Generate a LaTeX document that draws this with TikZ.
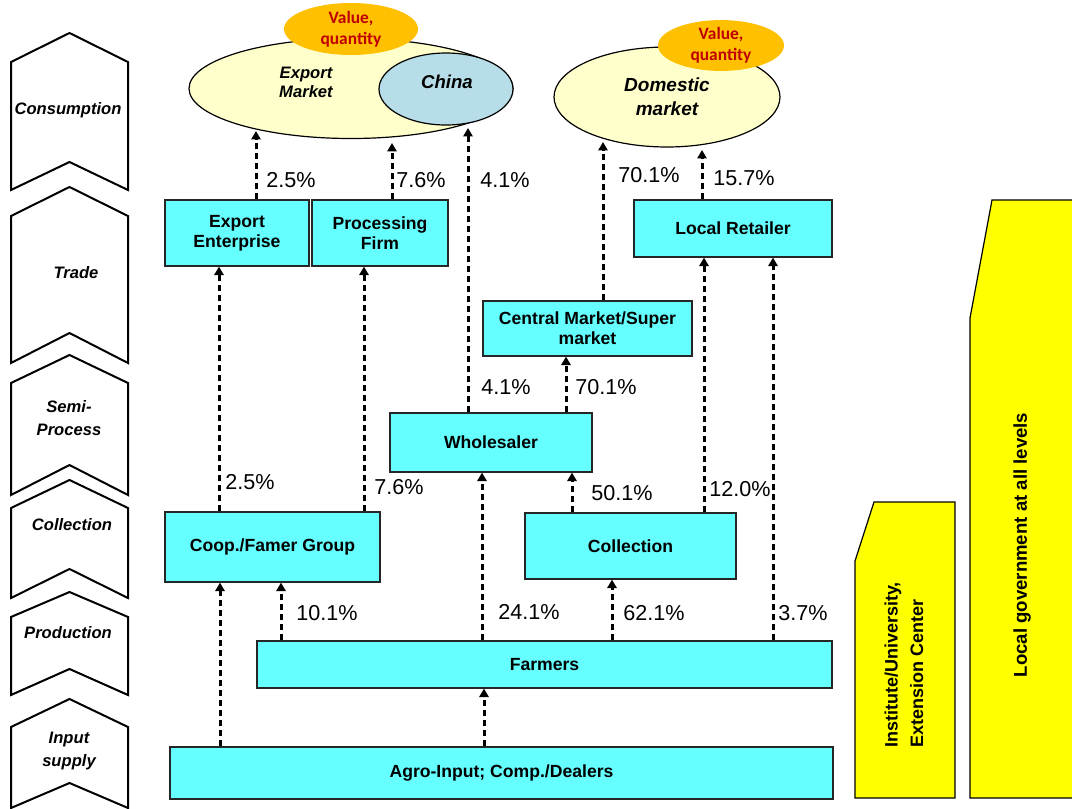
\documentclass[tikz,border=0pt]{standalone}
\usepackage{fontspec}
\setmainfont{Liberation Sans}
\newfontfamily\valuefont{Carlito}
\usetikzlibrary{shapes.geometric}
\usetikzlibrary{arrows.meta}
\definecolor{boxcyan}{HTML}{66FFFF}
\definecolor{mktyellow}{HTML}{FFFFCC}
\definecolor{chinablue}{HTML}{B7DEE8}
\definecolor{valorange}{HTML}{FFC000}
\definecolor{valred}{HTML}{C00000}
\definecolor{govyellow}{HTML}{FFFF00}

\begin{document}
\begin{tikzpicture}[x=0.5pt,y=-0.5pt,
		box/.style={draw=black!85,fill=boxcyan,line width=0.6pt,inner sep=0pt,align=center,
			font=\bfseries\fontsize{8.8}{10}\selectfont},
		mkt/.style={ellipse,draw,line width=0.6pt,inner sep=0pt},
		val/.style={ellipse,fill=valorange,inner sep=0pt,align=center,text=valred,
			font=\valuefont\bfseries\fontsize{8.7}{10.5}\selectfont},
		flow/.style={-{Triangle[length=4.2pt,width=4.6pt]},line width=1.5pt,dash pattern=on 3.2pt off 1.8pt},
		pct/.style={font=\fontsize{10.8}{12}\selectfont},
		chev/.style={draw,line width=1pt,line join=miter},
		stage/.style={align=center,font=\bfseries\itshape\fontsize{8.3}{11.5}\selectfont},
		side/.style={align=left,rotate=90,font=\bfseries\fontsize{9}{12.7}\selectfont}]
		\useasboundingbox (0,0) rectangle (1072,809);
		% value chain stages
		\draw[chev] (11,62) -- (69.5,33) -- (128,62) -- (128,190) -- (69.5,162) -- (11,190) -- cycle;
		\draw[chev] (11,216) -- (69.5,187) -- (128,216) -- (128,363) -- (69.5,333) -- (11,363) -- cycle;
		\draw[chev] (11,383) -- (69.5,355) -- (128,383) -- (128,495) -- (69.5,465) -- (11,495) -- cycle;
		\draw[chev] (11,508) -- (69.5,480) -- (128,508) -- (128,598) -- (69.5,569) -- (11,598) -- cycle;
		\draw[chev] (11,617) -- (69.5,592) -- (128,617) -- (128,695) -- (69.5,669) -- (11,695) -- cycle;
		\draw[chev] (11,727) -- (69.5,699) -- (128,727) -- (128,808) -- (69.5,783) -- (11,808) -- cycle;
		\node[stage] (stC) at (68,110){Consumption};
		\node[stage] (stT) at (76,273){Trade};
		\node[stage] (stS) at (69,418){Semi-\\Process};
		\node[stage] (stCo) at (72,525){Collection};
		\node[stage] (stP) at (68,633){Production};
		\node[stage] (stI) at (69,751){Input\\supply};
		% markets
		\node[mkt,fill=mktyellow,minimum width=162pt,minimum height=50pt] (EM) at (351,88.5){};
		\node[mkt,fill=chinablue,minimum width=67pt,minimum height=36pt] (CN) at (446,89){};
		\node[stage,font=\bfseries\itshape\fontsize{8.3}{9.5}\selectfont] (EMt) at (306,82){Export\\Market};
		\node[stage,font=\bfseries\itshape\fontsize{9.3}{11}\selectfont] (CNt) at (447,82){China};
		\node[val,minimum width=67pt,minimum height=26pt] (V1) at (351,29){Value,\\quantity};
		\node[mkt,fill=mktyellow,minimum width=113pt,minimum height=50pt,align=center,
			font=\bfseries\itshape\fontsize{9.5}{12}\selectfont] (DM) at (667,97){Domestic\\market};
		\node[val,minimum width=63pt,minimum height=25pt] (V2) at (721,45.5){Value,\\quantity};
		% actors
		\node[box,minimum width=72pt,minimum height=33pt] (EE) at (237,233){Export\\Enterprise};
		\node[box,minimum width=68pt,minimum height=33pt] (PF) at (380,233){Processing\\Firm};
		\node[box,minimum width=99pt,minimum height=28.5pt] (LR) at (733,228.5){Local Retailer};
		\node[box,minimum width=104.5pt,minimum height=27.5pt] (CM) at (587.5,328.5){Central Market/Super\\market};
		\node[box,minimum width=101pt,minimum height=29.5pt] (WS) at (491,442.5){Wholesaler};
		\node[box,minimum width=107.5pt,minimum height=35pt] (CO) at (272.5,547){Coop./Famer Group};
		\node[box,minimum width=105.5pt,minimum height=33pt] (CL) at (630.5,546){Collection};
		\node[box,minimum width=287.5pt,minimum height=23.5pt] (FA) at (544.5,664.5){Farmers};
		\node[box,minimum width=331.5pt,minimum height=26pt] (AI) at (501.5,773){Agro-Input; Comp./Dealers};
		% support
		\fill[govyellow] (874,502) -- (955,502) -- (955,798) -- (855,798) -- (855,561) -- cycle;
		\draw[line width=0.6pt] (874,502) -- (955,502) -- (955,798) -- (855,798) -- (855,561) -- cycle;
		\fill[govyellow] (992,200) -- (1072,200) -- (1072,798) -- (970,798) -- (970,318) -- cycle;
		\draw[line width=0.6pt] (1072,200) -- (992,200) -- (970,318) -- (970,798) -- (1072,798);
		\node[side] (INS) at (904,755)[anchor=west]{Institute/University,\\Extension Center};
		\node[side,font=\bfseries\fontsize{9.3}{11}\selectfont] (GOV) at (1022,545){Local government at all levels};
		% tips on the market ellipses
		\coordinate (tEE) at (256,131);
		\coordinate (tPF) at (392,143);
		\coordinate (tWS) at (468,128);
		\coordinate (tCM) at (603,142);
		\coordinate (tLR) at (702,150);
		\draw 	(AI.north -| 220,0) edge[flow] (CO.south -| 220,0)
		(AI.north -| 484,0) edge[flow] (FA.south -| 484,0)
		(FA.north -| 281,0) edge[flow] (CO.south -| 281,0)
		(FA.north -| 482,0) edge[flow] (WS.south -| 482,0)
		(FA.north -| 612,0) edge[flow] (CL.south -| 612,0)
		(FA.north -| 773,0) edge[flow] (LR.south -| 773,0)
		(CO.north -| 219,0) edge[flow] (EE.south -| 219,0)
		(CO.north -| 364,0) edge[flow] (PF.south -| 364,0)
		(CL.north -| 572,0) edge[flow] (WS.south -| 572,0)
		(CL.north -| 704,0) edge[flow] (LR.south -| 704,0)
		(WS.north -| 566,0) edge[flow] (CM.south -| 566,0)
		(WS.north -| 468,0) edge[flow] (tWS)
		(CM.north -| 603,0) edge[flow] (tCM)
		(LR.north -| 702,0) edge[flow] (tLR)
		(EE.north -| 256,0) edge[flow] (tEE)
		(PF.north -| 392,0) edge[flow] (tPF);
		% shares
		\node[pct] (p1) at (291,180){2.5\%};
		\node[pct] (p2) at (421,180){7.6\%};
		\node[pct] (p3) at (505,180){4.1\%};
		\node[pct] (p4) at (649,175){70.1\%};
		\node[pct] (p5) at (744,178){15.7\%};
		\node[pct] (p6) at (506,387){4.1\%};
		\node[pct] (p7) at (606,387){70.1\%};
		\node[pct] (p8) at (250,482){2.5\%};
		\node[pct] (p9) at (399,487){7.6\%};
		\node[pct] (p10) at (622,493){50.1\%};
		\node[pct] (p11) at (740,489){12.0\%};
		\node[pct] (p12) at (327,613){10.1\%};
		\node[pct] (p13) at (529,612){24.1\%};
		\node[pct] (p14) at (654,613){62.1\%};
		\node[pct] (p15) at (803,613){3.7\%};
	\end{tikzpicture}
\end{document}
